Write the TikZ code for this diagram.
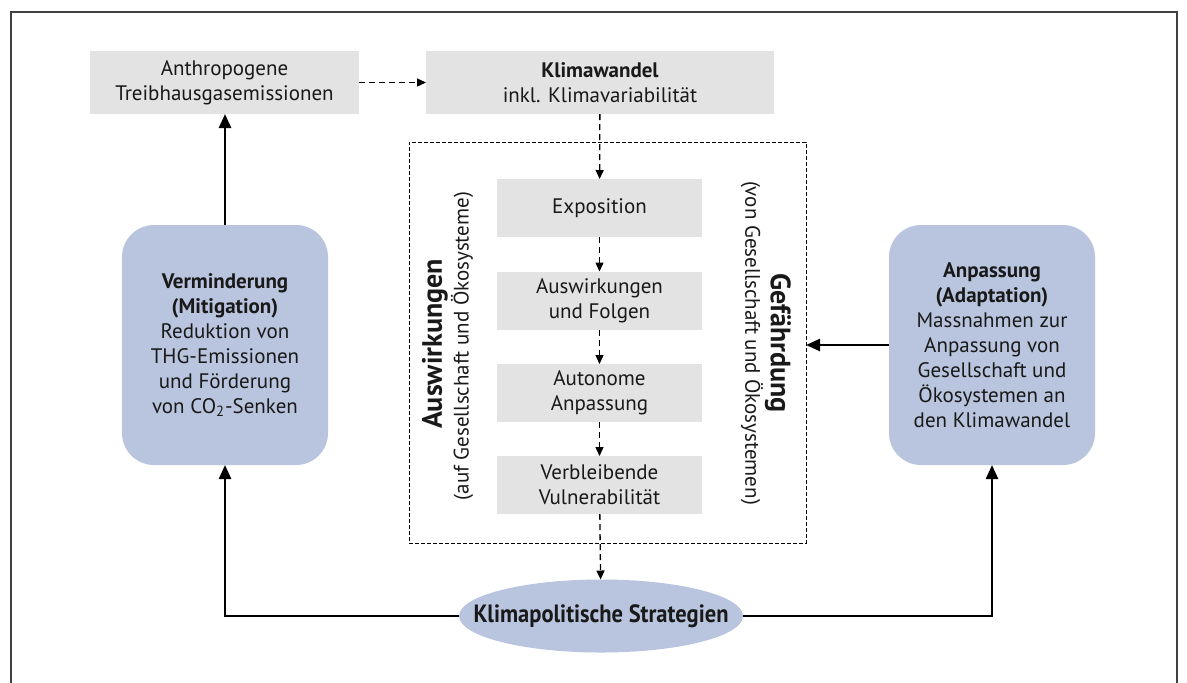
\documentclass[tikz,border=0pt]{standalone}
\usepackage{fontspec}
\setmainfont{PT Sans}
\usetikzlibrary{arrows.meta,shapes.geometric}
\definecolor{boxgray}{RGB}{226,227,226}
\definecolor{boxblue}{RGB}{185,197,222}

\begin{document}
\begin{tikzpicture}[x=.5pt,y=-.5pt,
  txt/.style={font=\fontsize{10.5}{12.5}\selectfont,text=black!90,align=center,inner sep=0pt,outer sep=0pt},
  graybox/.style={txt,fill=boxgray},
  bluebox/.style={txt,fill=boxblue,rounded corners=16pt,minimum width=103pt,minimum height=120pt},
  dasharr/.style={line width=.65pt,dash pattern=on 3pt off 2pt,-{Triangle[length=4.5pt,width=4pt]}},
  solidarr/.style={line width=1.25pt,-{Triangle[length=7pt,width=6pt]}}]
  \useasboundingbox (0,0) rectangle (1187,682);
  \draw[line width=.75pt,black!75] (11,700) -- (11,12) -- (1177,12) -- (1177,700);
  % top row
  \node[graybox,minimum width=134.5pt,minimum height=31.5pt] (anth) at (224.5,82.5) {Anthropogene\\Treibhausgasemissionen};
  \node[graybox,minimum width=174pt,minimum height=31.5pt] (klima) at (600,82.5) {\textbf{Klimawandel}\\inkl. Klimavariabilität};
  % middle column
  \node[draw,dash pattern=on 2pt off 1pt,line width=.5pt,minimum width=198.5pt,minimum height=200.5pt,inner sep=0pt,outer sep=0pt] (risk) at (607.5,342.5) {};
  \node[graybox,minimum width=102.5pt,minimum height=29pt] (expo) at (599.5,208) {Exposition};
  \node[graybox,minimum width=102.5pt,minimum height=29pt] (folg) at (599.5,300.5) {Auswirkungen\\und Folgen};
  \node[graybox,minimum width=102.5pt,minimum height=29pt] (auto) at (599.5,393) {Autonome\\Anpassung};
  \node[graybox,minimum width=102.5pt,minimum height=29pt] (vuln) at (599.5,485) {Verbleibende\\Vulnerabilität};
  \node[txt,rotate=90,font=\fontsize{14}{16}\selectfont\bfseries] (auhead) at (435,344) {Auswirkungen};
  \node[txt,rotate=90] (ausub) at (462,346) {(auf Gesellschaft und Ökosysteme)};
  \node[txt,rotate=-90,font=\fontsize{14}{16}\selectfont\bfseries] (gehead) at (778,343) {Gefährdung};
  \node[txt,rotate=-90] (gesub) at (752,343) {(von Gesellschaft und Ökosystemen)};
  % sides
  \node[bluebox] (mitig) at (225,345) {\textbf{Verminderung}\\\textbf{(Mitigation)}\\Reduktion von\\THG-Emissionen\\und Förderung\\von CO\textsubscript{2}-Senken};
  \node[bluebox] (adapt) at (992,345) {\textbf{Anpassung}\\\textbf{(Adaptation)}\\Massnahmen zur\\Anpassung von\\Gesellschaft und\\Ökosystemen an\\den Klimawandel};
  \node[txt,ellipse,fill=boxblue,minimum width=142pt,minimum height=36.5pt] (strat) at (601,616) {\makebox[0pt]{\fontsize{12.5}{14}\selectfont\scalebox{.9}[1]{\bfseries Klimapolitische Strategien}}};
  % arrows
  \draw[dasharr] (anth) -- (klima);
  \draw[dasharr] (klima) -- (expo);
  \draw[dasharr] (expo) -- (folg);
  \draw[dasharr] (folg) -- (auto);
  \draw[dasharr] (auto) -- (vuln);
  \draw[dasharr] (vuln) -- (strat);
  \draw[solidarr] (mitig.north) -- (mitig.north |- anth.south);
  \draw[solidarr] (adapt.west) -- (adapt.west -| risk.east);
  \draw[solidarr] (strat.west) -| (mitig.south);
  \draw[solidarr] (strat.east) -| (adapt.south);
\end{tikzpicture}
\end{document}
